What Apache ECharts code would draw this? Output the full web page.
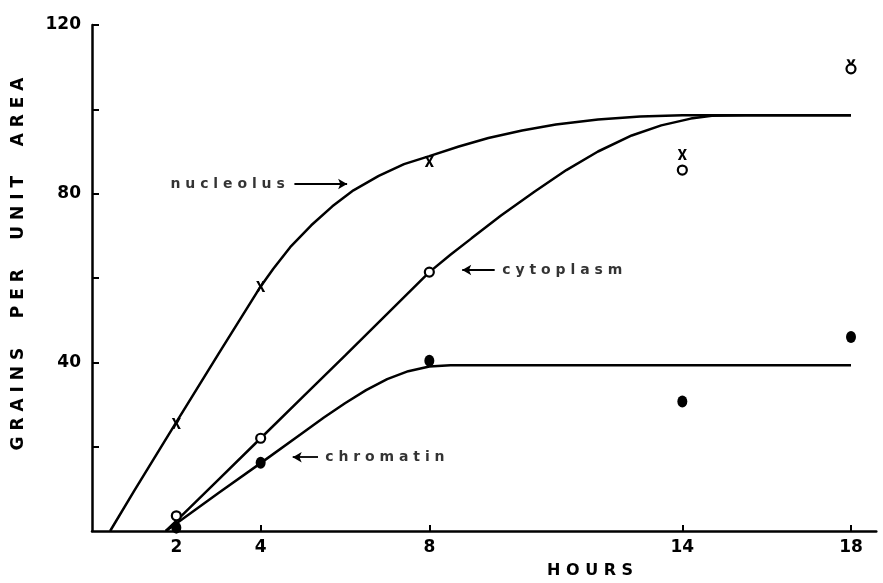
<!DOCTYPE html>
<html>
<head>
<meta charset="utf-8">
<script src="https://cdn.jsdelivr.net/npm/echarts@6/dist/echarts.min.js"></script>
<style>
html,body{margin:0;padding:0;background:#fff;}
#chart{width:883px;height:583px;}
</style>
</head>
<body>
<div id="chart"></div>
<script>
// Tick values
const xTickValues = [2, 4, 8, 14, 18];
const yTickValues = [20, 40, 60, 80, 100, 120];
const yLabelValues = [40, 80, 120];

// Fitted curves (hours, grains per unit area)
const nucleolusCurve = [[0.43,0],[1,9.5],[2,25.8],[3,42],[4,58],[4.3,62.2],[4.7,67.3],[5.2,72.5],[5.7,77],[6.2,80.8],[6.8,84.2],[7.4,87],[8,88.9],[8.7,91.2],[9.4,93.2],[10.2,95],[11,96.4],[12,97.6],[13,98.3],[14,98.6],[18,98.6]];
const cytoplasmCurve = [[1.75,0],[2,2.4],[3,12.2],[4,22],[5,31.8],[6,41.6],[7,51.5],[8,61.4],[8.5,65.5],[9,69.4],[9.7,74.8],[10.5,80.5],[11.25,85.6],[12,90],[12.8,93.8],[13.5,96.2],[14.2,97.8],[14.7,98.5],[15.5,98.6],[18,98.6]];
const chromatinCurve = [[1.75,0],[2,1.8],[3,9],[4,16.1],[5,23.3],[5.5,26.9],[6,30.3],[6.5,33.4],[7,36],[7.5,37.9],[8,39],[8.5,39.3],[18,39.3]];

// Observed points
const nucleolusObs = [[2,25.5],[4,58],[8,87.6],[14,89.3],[18,110.6]];
const cytoplasmObs = [[2,3.6],[4,22],[8,61.4],[14,85.6],[18,109.6]];
const chromatinObs = [[2,0.8],[4,16.2],[8,40.4],[14,30.7],[18,46]];

// Curve labels: [x, y, text]
const curveLabels = [[1.85,82.3,'n u c l e o l u s'],[9.72,61.9,'c y t o p l a s m'],[5.52,17.5,'c h r o m a t i n']];
// Label arrows: [[x1,y1],[x2,y2]] (arrow at second point)
const labelArrows = [[[4.8,82.3],[6.05,82.3]],[[9.55,61.9],[8.78,61.9]],[[5.36,17.5],[4.76,17.5]]];

const FONT = '"DejaVu Sans", sans-serif';
const xPath = 'path://M0,0 L3,0 L5,3.6 L7,0 L10,0 L6.6,5 L10,10 L7,10 L5,6.4 L3,10 L0,10 L3.4,5 Z';

const chart = echarts.init(document.getElementById('chart'), null, {renderer:'canvas'});

const lineStyle = {color:'#000', width:2.5};
function curve(data){
  return {type:'line', data:data, smooth:false, showSymbol:false, symbol:'none',
    lineStyle:lineStyle, silent:true, animation:false, z:2};
}

chart.setOption({
  backgroundColor:'#fff',
  animation:false,
  grid:{left:92, top:25, right:6.7, bottom:52, containLabel:false},
  xAxis:{
    type:'value', min:0, max:18.6,
    axisLine:{show:true, onZero:false, lineStyle:{color:'#000', width:2.5}},
    axisTick:{show:true, inside:true, length:6, customValues:xTickValues, lineStyle:{color:'#000', width:2}},
    axisLabel:{show:true, customValues:xTickValues, color:'#000', fontFamily:FONT, fontWeight:'bold', fontSize:17, margin:8},
    splitLine:{show:false}
  },
  yAxis:{
    type:'value', min:0, max:120, interval:20,
    name:'G R A I N S     P E R     U N I T     A R E A',
    nameLocation:'middle', nameRotate:90, nameGap:65,
    nameTextStyle:{color:'#000', fontFamily:FONT, fontWeight:'bold', fontSize:17, padding:[0,0,0,28]},
    axisLine:{show:true, onZero:false, lineStyle:{color:'#000', width:2.5}},
    axisTick:{show:true, inside:true, length:7, customValues:yTickValues, lineStyle:{color:'#000', width:2}},
    axisLabel:{show:true, customValues:yLabelValues, color:'#000', fontFamily:FONT, fontWeight:'bold', fontSize:17, margin:11},
    splitLine:{show:false}
  },
  graphic:[{type:'text', left:547, top:563, style:{text:'H O U R S', fill:'#000', font:'bold 16px "DejaVu Sans", sans-serif'}}],
  series:[
    curve(nucleolusCurve),
    curve(cytoplasmCurve),
    curve(chromatinCurve),
    {type:'scatter', data:nucleolusObs, symbol:xPath, symbolSize:[9,11],
      itemStyle:{color:'#000', opacity:1}, z:5, silent:true},
    {type:'scatter', data:cytoplasmObs, symbol:'circle', symbolSize:9,
      itemStyle:{color:'#fff', borderColor:'#000', borderWidth:2.2, opacity:1}, z:5, silent:true},
    {type:'scatter', data:chromatinObs, symbol:'circle', symbolSize:[10,12],
      itemStyle:{color:'#000', opacity:1}, z:5, silent:true},
    {type:'scatter', data:curveLabels.map(d=>({value:[d[0],d[1]], name:d[2]})),
      symbolSize:1, itemStyle:{color:'rgba(0,0,0,0)'}, silent:true, z:6,
      label:{show:true, position:'right', distance:0, formatter:p=>p.name, color:'#000',
        fontFamily:FONT, fontWeight:'bold', fontSize:14},
      markLine:{silent:true, animation:false, symbol:['none','arrow'], symbolSize:[8,9],
        lineStyle:{color:'#000', width:1.8, type:'solid'}, label:{show:false},
        data:labelArrows.map(a=>[{coord:a[0]},{coord:a[1]}])}
    }
  ]
});
</script>
</body>
</html>
